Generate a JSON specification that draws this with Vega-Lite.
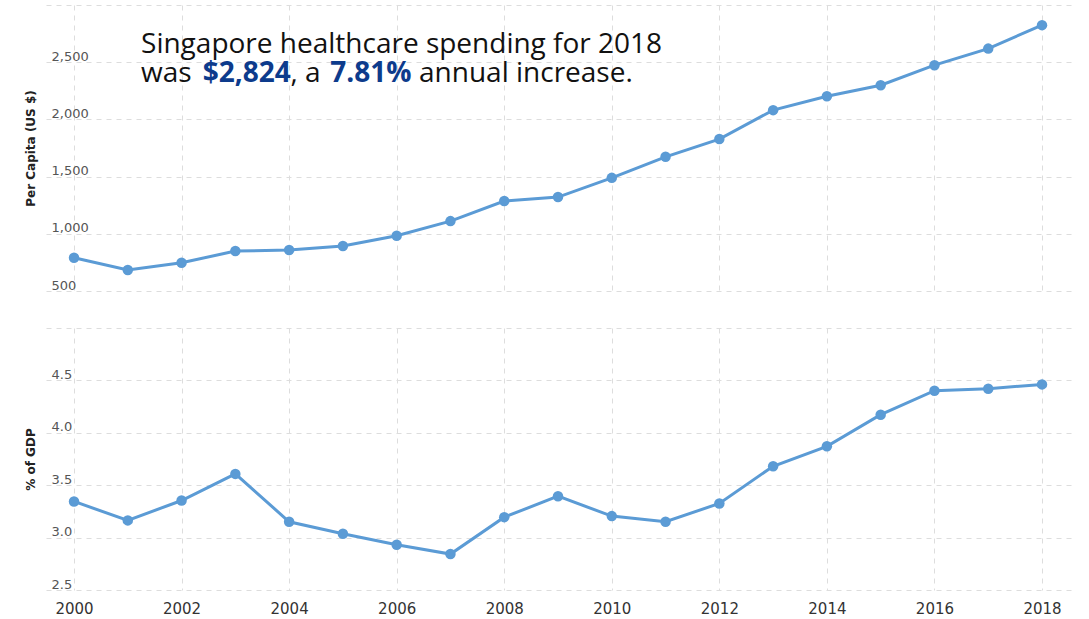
{
  "$schema": "https://vega.github.io/schema/vega-lite/v6.json",
  "padding": {"left": 24, "top": 5, "right": 5, "bottom": 5},
  "background": "white",
  "spacing": 36,
  "config": {
    "view": {"stroke": null},
    "axis": {
      "gridColor": "#dddddd",
      "gridDash": [5, 5],
      "gridWidth": 1,
      "domain": false,
      "ticks": false,
      "labelFont": "DejaVu Sans",
      "titleFont": "DejaVu Sans"
    }
  },
  "datasets": {
    "spend": [
      {"year": 2000, "per_capita": 790, "pct_gdp": 3.345},
      {"year": 2001, "per_capita": 683, "pct_gdp": 3.164},
      {"year": 2002, "per_capita": 747, "pct_gdp": 3.354},
      {"year": 2003, "per_capita": 849, "pct_gdp": 3.608},
      {"year": 2004, "per_capita": 858, "pct_gdp": 3.151},
      {"year": 2005, "per_capita": 893, "pct_gdp": 3.036},
      {"year": 2006, "per_capita": 983, "pct_gdp": 2.931},
      {"year": 2007, "per_capita": 1111, "pct_gdp": 2.843},
      {"year": 2008, "per_capita": 1286, "pct_gdp": 3.195},
      {"year": 2009, "per_capita": 1321, "pct_gdp": 3.395},
      {"year": 2010, "per_capita": 1489, "pct_gdp": 3.205},
      {"year": 2011, "per_capita": 1673, "pct_gdp": 3.151},
      {"year": 2012, "per_capita": 1828, "pct_gdp": 3.326},
      {"year": 2013, "per_capita": 2081, "pct_gdp": 3.681},
      {"year": 2014, "per_capita": 2203, "pct_gdp": 3.871},
      {"year": 2015, "per_capita": 2299, "pct_gdp": 4.173},
      {"year": 2016, "per_capita": 2474, "pct_gdp": 4.402},
      {"year": 2017, "per_capita": 2619, "pct_gdp": 4.421},
      {"year": 2018, "per_capita": 2824, "pct_gdp": 4.462}
    ]
  },
  "vconcat": [
    {
      "width": 1025,
      "height": 286,
      "data": {"name": "spend"},
      "layer": [
        {
          "mark": {"type": "line", "color": "#5b9bd5", "strokeWidth": 3},
          "encoding": {
            "x": {"field": "year", "type": "quantitative",
              "scale": {"domain": [1999.479, 2018.539], "nice": false, "zero": false},
              "axis": {"values": [2000, 2002, 2004, 2006, 2008, 2010, 2012, 2014, 2016, 2018], "labels": false, "title": null}},
            "y": {"field": "per_capita", "type": "quantitative",
              "scale": {"domain": [500, 3000], "nice": false, "zero": false},
              "axis": {"values": [500, 1000, 1500, 2000, 2500, 3000],
                "labelExpr": "datum.value == 3000 ? '' : format(datum.value, ',')",
                "labelAlign": "left", "labelBaseline": "alphabetic", "labelPadding": -5, "labelOffset": -2,
                "labelFontSize": 13, "labelColor": "#555555",
                "title": "Per Capita (US $)", "titleFontSize": 12, "titleFontWeight": "bold", "titleColor": "#222222", "titlePadding": 9}}
          }
        },
        {
          "mark": {"type": "circle", "color": "#5b9bd5", "opacity": 1, "size": 110},
          "encoding": {
            "x": {"field": "year", "type": "quantitative"},
            "y": {"field": "per_capita", "type": "quantitative"}
          }
        },
        {
          "data": {"values": [{"t": "Singapore healthcare spending for 2018"}]},
          "mark": {"type": "text", "align": "left", "baseline": "alphabetic", "font": "Open Sans", "fontSize": 28, "color": "#111111"},
          "encoding": {"x": {"datum": 2001.246}, "y": {"datum": 2583}, "text": {"field": "t"}}
        },
        {
          "data": {"values": [{"t": "was"}]},
          "mark": {"type": "text", "align": "left", "baseline": "alphabetic", "font": "Open Sans", "fontSize": 28, "color": "#111111"},
          "encoding": {"x": {"datum": 2001.246}, "y": {"datum": 2325}, "text": {"field": "t"}}
        },
        {
          "data": {"values": [{"t": "$2,824"}]},
          "mark": {"type": "text", "align": "left", "baseline": "alphabetic", "font": "Open Sans", "fontSize": 28, "fontWeight": "bold", "color": "#0d3b8c"},
          "encoding": {"x": {"datum": 2002.393}, "y": {"datum": 2325}, "text": {"field": "t"}}
        },
        {
          "data": {"values": [{"t": ", a"}]},
          "mark": {"type": "text", "align": "left", "baseline": "alphabetic", "font": "Open Sans", "fontSize": 28, "color": "#111111"},
          "encoding": {"x": {"datum": 2004.026}, "y": {"datum": 2325}, "text": {"field": "t"}}
        },
        {
          "data": {"values": [{"t": "7.81%"}]},
          "mark": {"type": "text", "align": "left", "baseline": "alphabetic", "font": "Open Sans", "fontSize": 28, "fontWeight": "bold", "color": "#0d3b8c"},
          "encoding": {"x": {"datum": 2004.766}, "y": {"datum": 2325}, "text": {"field": "t"}}
        },
        {
          "data": {"values": [{"t": "annual increase."}]},
          "mark": {"type": "text", "align": "left", "baseline": "alphabetic", "font": "Open Sans", "fontSize": 28, "color": "#111111"},
          "encoding": {"x": {"datum": 2006.415}, "y": {"datum": 2325}, "text": {"field": "t"}}
        }
      ]
    },
    {
      "width": 1025,
      "height": 262,
      "data": {"name": "spend"},
      "layer": [
        {
          "mark": {"type": "line", "color": "#5b9bd5", "strokeWidth": 3},
          "encoding": {
            "x": {"field": "year", "type": "quantitative",
              "scale": {"domain": [1999.479, 2018.539], "nice": false, "zero": false},
              "axis": {"values": [2000, 2002, 2004, 2006, 2008, 2010, 2012, 2014, 2016, 2018], "format": "d",
                "labelFontSize": 15, "labelColor": "#333333", "labelPadding": 11, "title": null}},
            "y": {"field": "pct_gdp", "type": "quantitative",
              "scale": {"domain": [2.5, 5.0], "nice": false, "zero": false},
              "axis": {"values": [2.5, 3.0, 3.5, 4.0, 4.5, 5.0],
                "labelExpr": "datum.value == 5 ? '' : format(datum.value, '.1f')",
                "labelAlign": "left", "labelBaseline": "alphabetic", "labelPadding": -5, "labelOffset": -2,
                "labelFontSize": 13, "labelColor": "#555555",
                "title": "% of GDP", "titleFontSize": 12, "titleFontWeight": "bold", "titleColor": "#222222", "titlePadding": 9}}
          }
        },
        {
          "mark": {"type": "circle", "color": "#5b9bd5", "opacity": 1, "size": 110},
          "encoding": {
            "x": {"field": "year", "type": "quantitative"},
            "y": {"field": "pct_gdp", "type": "quantitative"}
          }
        }
      ]
    }
  ]
}
